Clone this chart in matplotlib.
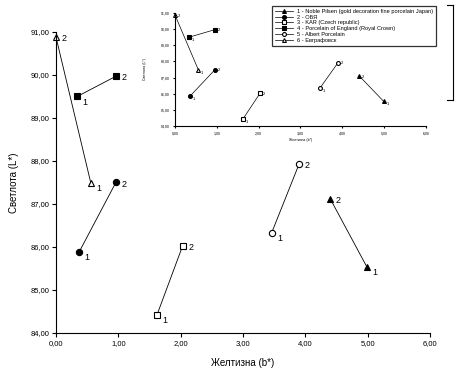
import matplotlib
matplotlib.use('Agg')
import matplotlib.pyplot as plt
from matplotlib.ticker import FuncFormatter
from matplotlib.lines import Line2D

plt.rcParams['font.family'] = ['Liberation Sans', 'DejaVu Sans']

# yellowness b* and lightness L* for points 1 and 2 of each sample
LEGEND_NAMES = [
    '1 - Noble Pilsen (gold decoration fine porcelain Japan)',
    '2 - ОБЯ',
    '3 - KAR (Czech republic)',
    '4 - Porcelain of England (Royal Crown)',
    '5 - Albert Porcelain',
    '6 - Евграфовск',
]
B1 = [4.99, 0.37, 1.62, 0.34, 3.46, 0.56]
L1 = [85.53, 85.88, 84.42, 89.50, 86.33, 87.48]
B2 = [4.40, 0.96, 2.03, 0.96, 3.90, 0.00]
L2 = [87.12, 87.50, 86.02, 89.97, 87.93, 90.88]
MARKERS = ['^', 'o', 's', 's', 'o', '^']
FILLED = [True, True, False, True, False, False]

X_TICKS = [0, 1, 2, 3, 4, 5, 6]
Y_TICKS = [84, 85, 86, 87, 88, 89, 90, 91]

comma_fmt = FuncFormatter(lambda v, p: ('%.2f' % v).replace('.', ','))


def draw_series(ax, msize, fsize, lw, off):
    handles = []
    for i in range(len(B1)):
        face = 'black' if FILLED[i] else 'white'
        h, = ax.plot([B1[i], B2[i]], [L1[i], L2[i]], color='black', lw=lw,
                     marker=MARKERS[i], markersize=msize, markerfacecolor=face,
                     markeredgecolor='black', markeredgewidth=0.8, clip_on=False)
        handles.append(h)
        ax.annotate('1', (B1[i], L1[i]), xytext=(off, -off), textcoords='offset points',
                    fontsize=fsize, va='center', ha='left')
        ax.annotate('2', (B2[i], L2[i]), xytext=(off, -off * 0.3), textcoords='offset points',
                    fontsize=fsize, va='center', ha='left')
    return handles


def style_axes(ax, tsize, ticklen):
    ax.set_xlim(0, 6)
    ax.set_ylim(84, 91)
    ax.set_xticks(X_TICKS)
    ax.set_yticks(Y_TICKS)
    ax.xaxis.set_major_formatter(comma_fmt)
    ax.yaxis.set_major_formatter(comma_fmt)
    ax.spines['top'].set_visible(False)
    ax.spines['right'].set_visible(False)
    ax.tick_params(labelsize=tsize, length=ticklen, width=0.8, pad=2)
    ax.patch.set_alpha(0)


fig = plt.figure(figsize=(4.64, 3.8), dpi=100)

ax = fig.add_axes([0.1207, 0.1237, 0.806, 0.7921])
draw_series(ax, 4.5, 6.5, 0.6, 4)
style_axes(ax, 5.5, 3)
ax.set_xlabel('Желтизна (b*)', fontsize=7, labelpad=8)
ax.set_ylabel('Светлота (L*)', fontsize=7, labelpad=8)

# smaller copy in the upper right
ins = fig.add_axes([0.377, 0.668, 0.541, 0.298])
handles = draw_series(ins, 2.8, 3, 0.5, 2)
style_axes(ins, 2.5, 1.5)
ins.set_xlabel('Желтизна (b*)', fontsize=2.5, labelpad=2)
ins.set_ylabel('Светлота (L*)', fontsize=2.5, labelpad=10)

leg = fig.legend(handles, LEGEND_NAMES, loc='upper left',
                 bbox_to_anchor=(269 / 464, 1 - 3 / 380), fontsize=4.1,
                 frameon=True, fancybox=False, borderpad=0.5, labelspacing=0.15,
                 handlelength=3.2)
leg.get_frame().set_edgecolor('black')
leg.get_frame().set_linewidth(0.9)

# bracket on the right edge
bx = 453 / 464
y_top = 1 - 5 / 380
y_bot = 1 - 100 / 380
fig.add_artist(Line2D([bx, bx], [y_top, y_bot], color='black', lw=0.8))
fig.add_artist(Line2D([bx - 6 / 464, bx], [y_top, y_top], color='black', lw=0.8))
fig.add_artist(Line2D([bx - 6 / 464, bx], [y_bot, y_bot], color='black', lw=0.8))

fig.savefig('out.png', dpi=100)
